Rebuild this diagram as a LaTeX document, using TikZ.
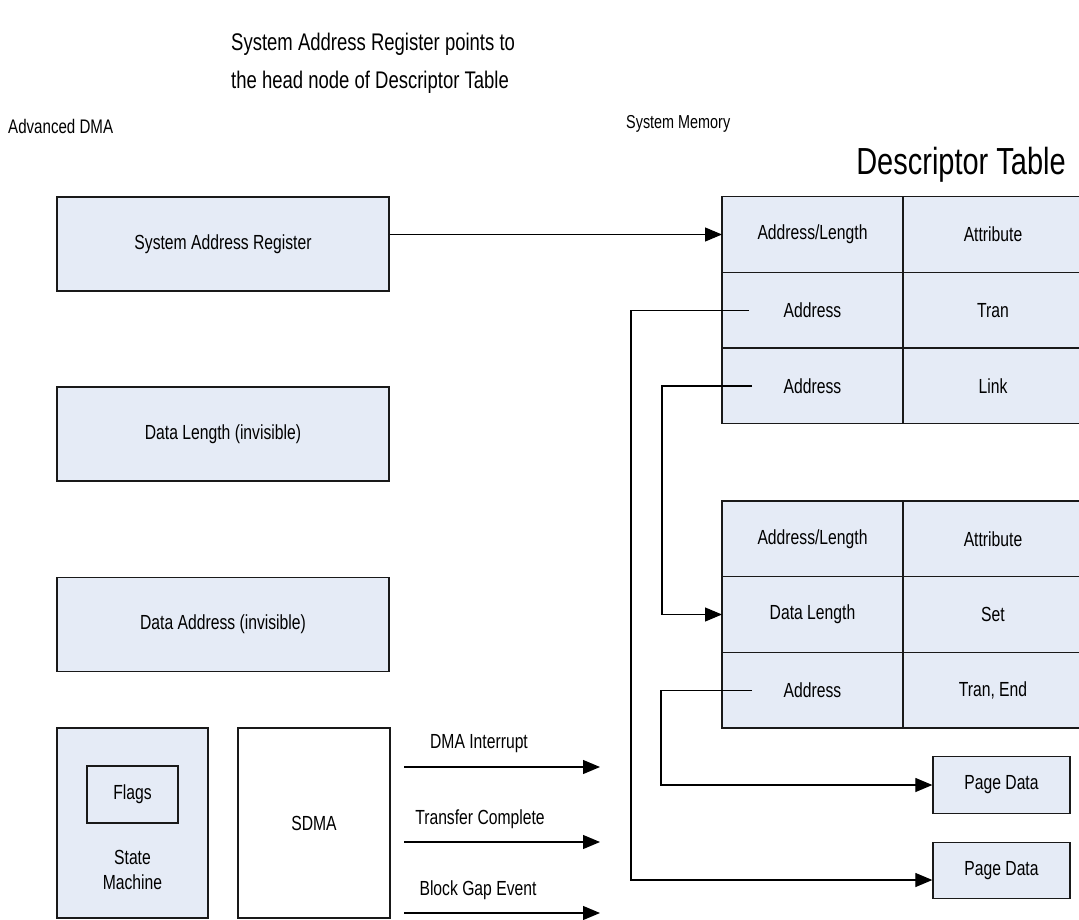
\documentclass[tikz,border=0pt]{standalone}
\usepackage{fontspec}
\setmainfont{Liberation Sans}
\usepackage{xcolor}
\usepackage{graphicx}
\usepackage{tikz}
\usetikzlibrary{positioning,arrows.meta}
\definecolor{cellfill}{RGB}{229,235,246}
\newcommand{\boxfont}{\fontsize{15.7}{25}\selectfont}
% the drawing's lettering is narrow and tall
\newcommand{\tall}[1]{\scalebox{1}[1.3]{#1}}
\tikzset{
  % --- register and table boxes ----------------------------------------------
  reg/.style={rectangle,draw=black!90,fill=cellfill,line width=1.3pt,
              minimum width=332pt,minimum height=94pt,inner sep=0pt,
              font=\boxfont},
  cell/.style={rectangle,draw=black!90,fill=cellfill,line width=1.3pt,
               minimum height=75.7pt,inner sep=0pt,outer sep=0pt,
               font=\boxfont},
  lcell/.style={cell,minimum width=181pt},
  rcell/.style={cell,minimum width=180pt},
  page/.style={rectangle,draw=black!90,fill=cellfill,line width=1.3pt,
               minimum width=137pt,minimum height=56.5pt,inner sep=0pt,
               font=\boxfont},
  plain/.style={rectangle,draw=black!90,line width=1.3pt,inner sep=0pt,
                font=\boxfont},
  % --- texts and links -------------------------------------------------------
  lbl/.style={inner sep=0pt,font=\boxfont},
  conn/.style={-{Triangle[length=17pt,width=14pt]},line width=1.2pt},
}
\begin{document}
\begin{tikzpicture}[x=1pt, y=-1pt]
  \useasboundingbox (0,0) rectangle (1079,920);

  \node[anchor=west,align=left,inner sep=0pt,
        font=\fontsize{18.5}{38}\selectfont] (title) at (231,63)
        {\tall{System Address Register points to}\\
         \tall{the head node of Descriptor Table}};
  \node[anchor=west,inner sep=0pt,font=\fontsize{15.1}{18}\selectfont]
        (adma) at (8,126) {\tall{Advanced DMA}};
  \node[anchor=west,inner sep=0pt,font=\fontsize{14.4}{18}\selectfont]
        (sysmem) at (626,124) {\tall{System Memory}};
  \node[anchor=east,inner sep=0pt,font=\fontsize{29}{32}\selectfont]
        (dtab) at (1066,165) {\tall{Descriptor Table}};

  % Advanced DMA side
  \node[reg] (sar) at (223,244)   {\tall{System Address Register}};
  \node[reg] (dlen) at (223,434)  {\tall{Data Length (invisible)}};
  \node[reg] (dadr) at (223,624.5) {\tall{Data Address (invisible)}};
  \node[plain,fill=cellfill,minimum width=151pt,minimum height=190pt]
        (sm) at (132.5,823) {};
  \node[plain,minimum width=91pt,minimum height=57pt] (flags) at (132.5,794.5)
        {\tall{Flags}};
  \node[lbl,align=center] (smtxt) at (132.5,870) {\tall{State}\\\tall{Machine}};
  \node[plain,minimum width=152pt,minimum height=190pt] (sdma) at (314,823)
        {\tall{SDMA}};

  % descriptor table, head node
  \node[lcell] (la1) at (812.5,234.5) {\tall{Address/Length}};
  \node[rcell,right=0pt of la1] (ra1) {\tall{Attribute}};
  \node[lcell,below=0pt of la1] (la2) {\tall{Address}};
  \node[rcell,right=0pt of la2] (ra2) {\tall{Tran}};
  \node[lcell,below=0pt of la2] (la3) {\tall{Address}};
  \node[rcell,right=0pt of la3] (ra3) {\tall{Link}};

  % descriptor table, linked node
  \node[lcell] (lb1) at (812.5,538.8) {\tall{Address/Length}};
  \node[rcell,right=0pt of lb1] (rb1) {\tall{Attribute}};
  \node[lcell,below=0pt of lb1] (lb2) {\tall{Data Length}};
  \node[rcell,right=0pt of lb2] (rb2) {\tall{Set}};
  \node[lcell,below=0pt of lb2] (lb3) {\tall{Address}};
  \node[rcell,right=0pt of lb3] (rb3) {\tall{Tran, End}};

  \node[page] (pg1) at (1001.5,785)   {\tall{Page Data}};
  \node[page] (pg2) at (1001.5,870.5) {\tall{Page Data}};

  % interrupt lines out of the SDMA
  \coordinate (irq-s) at (404,767);  \coordinate (irq-e) at (600,767);
  \coordinate (tc-s)  at (404,842);  \coordinate (tc-e)  at (600,842);
  \coordinate (bge-s) at (404,913);  \coordinate (bge-e) at (600,913);
  \node[lbl] (irq) at (479,744) {\tall{DMA Interrupt}};
  \node[lbl] (tc)  at (480,819) {\tall{Transfer Complete}};
  \node[lbl] (bge) at (478,890) {\tall{Block Gap Event}};
  \draw[conn] (irq-s) -- (irq-e);
  \draw[conn] (tc-s) -- (tc-e);
  \draw[conn] (bge-s) -- (bge-e);

  \draw[conn] (sar.east |- la1) -- (la1.west);
  % the Tran entry runs down to the second page
  \draw[conn] ([xshift=-63.5pt]la2.center) -- ++(-118,0)
              |- ([yshift=-9.5pt]pg2.west);
  % the Link entry points at the next descriptor
  \draw[conn] ([xshift=-60.5pt]la3.center) -- ++(-90,0) |- (lb2.west);
  \draw[conn] ([xshift=-60.5pt]lb3.center) -- ++(-91,0) |- (pg1.west);
\end{tikzpicture}
\end{document}
